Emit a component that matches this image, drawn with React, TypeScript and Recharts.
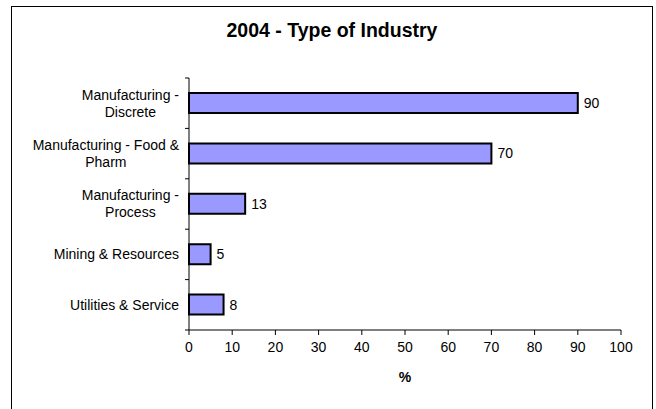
import React from 'react';
import { BarChart, Bar, XAxis, YAxis, LabelList } from 'recharts';

const categories = [
  'Manufacturing - Discrete',
  'Manufacturing - Food & Pharm',
  'Manufacturing - Process',
  'Mining & Resources',
  'Utilities & Service',
];
const categoryLines = [
  ['Manufacturing -', 'Discrete'],
  ['Manufacturing - Food &', 'Pharm'],
  ['Manufacturing -', 'Process'],
  ['Mining & Resources'],
  ['Utilities & Service'],
];
const values = [90, 70, 13, 5, 8];
const xTicks = [0, 10, 20, 30, 40, 50, 60, 70, 80, 90, 100];

const data = categories.map((name, i) => ({ name, value: values[i] }));

const FONT = '"Liberation Sans", Arial, sans-serif';
const FS = 14;
const PLOT_TOP = 78;
const PLOT_BOTTOM = 330;
const BAND = (PLOT_BOTTOM - PLOT_TOP) / categories.length;

let ctx: CanvasRenderingContext2D | null = null;
const measure = (s: string) => {
  if (!ctx) ctx = document.createElement('canvas').getContext('2d');
  if (!ctx) return s.length * 7;
  ctx.font = `${FS}px "Liberation Sans"`;
  return ctx.measureText(s).width;
};

const CategoryTick = (props: any) => {
  const { x, y, payload, index } = props;
  const idx = categories.indexOf(payload.value);
  const lines = categoryLines[idx] || [payload.value];
  const w = Math.max(...lines.map(measure));
  const cx = x - w / 2;
  const lh = 17;
  const y0 = y - ((lines.length - 1) * lh) / 2;
  const axisX = x + 10;
  return (
    <g>
      <line x1={axisX - 4} x2={axisX} y1={y - BAND / 2} y2={y - BAND / 2} stroke="#000" />
      {index === categories.length - 1 && (
        <line x1={axisX - 4} x2={axisX} y1={y + BAND / 2} y2={y + BAND / 2} stroke="#000" />
      )}
      <text x={cx} y={y0} textAnchor="middle" fontSize={FS} fontFamily={FONT} fill="#000">
        {lines.map((l, i) => (
          <tspan key={i} x={cx} dy={i === 0 ? '0.35em' : lh}>
            {l}
          </tspan>
        ))}
      </text>
    </g>
  );
};

const AxisTitle = (props: any) => {
  const { viewBox } = props;
  return (
    <text
      x={viewBox.x + viewBox.width / 2}
      y={377}
      dy="0.35em"
      textAnchor="middle"
      fontSize={FS}
      fontWeight="bold"
      fontFamily={FONT}
      fill="#000"
    >
      %
    </text>
  );
};

export default function App() {
  return (
    <div style={{ position: 'absolute', left: 0, top: 0, width: 656, height: 409, overflow: 'hidden', background: '#fff', fontFamily: FONT }}>
      <div style={{ position: 'absolute', left: 11, top: 6, width: 640, height: 440, border: '1px solid #000' }} />
      <div style={{ position: 'absolute', left: 11, top: 18, width: 642, textAlign: 'center', fontSize: 19.5, fontWeight: 'bold', lineHeight: '24px', color: '#000' }}>
        2004 - Type of Industry
      </div>
      <div style={{ position: 'absolute', left: 0, top: 0 }}>
        <BarChart
          width={656}
          height={409}
          data={data}
          layout="vertical"
          barSize={20}
          margin={{ top: PLOT_TOP, right: 35, bottom: 29, left: 9 }}
        >
          <XAxis
            type="number"
            domain={[0, 100]}
            ticks={xTicks}
            interval={0}
            height={50}
            tickSize={5}
            tickMargin={7}
            axisLine={{ stroke: '#000' }}
            tickLine={{ stroke: '#000' }}
            tick={{ fontSize: FS, fill: '#000', fontFamily: FONT }}
            label={<AxisTitle />}
          />
          <YAxis
            type="category"
            dataKey="name"
            width={180}
            tickSize={4}
            tickMargin={6}
            tickLine={false}
            interval={0}
            axisLine={{ stroke: '#000' }}
            tick={<CategoryTick />}
          />
          <Bar dataKey="value" fill="#9999FF" stroke="#000" strokeWidth={2} isAnimationActive={false}>
            <LabelList dataKey="value" position="right" offset={6} fill="#000" fontSize={FS} fontFamily={FONT} />
          </Bar>
        </BarChart>
      </div>
    </div>
  );
}
